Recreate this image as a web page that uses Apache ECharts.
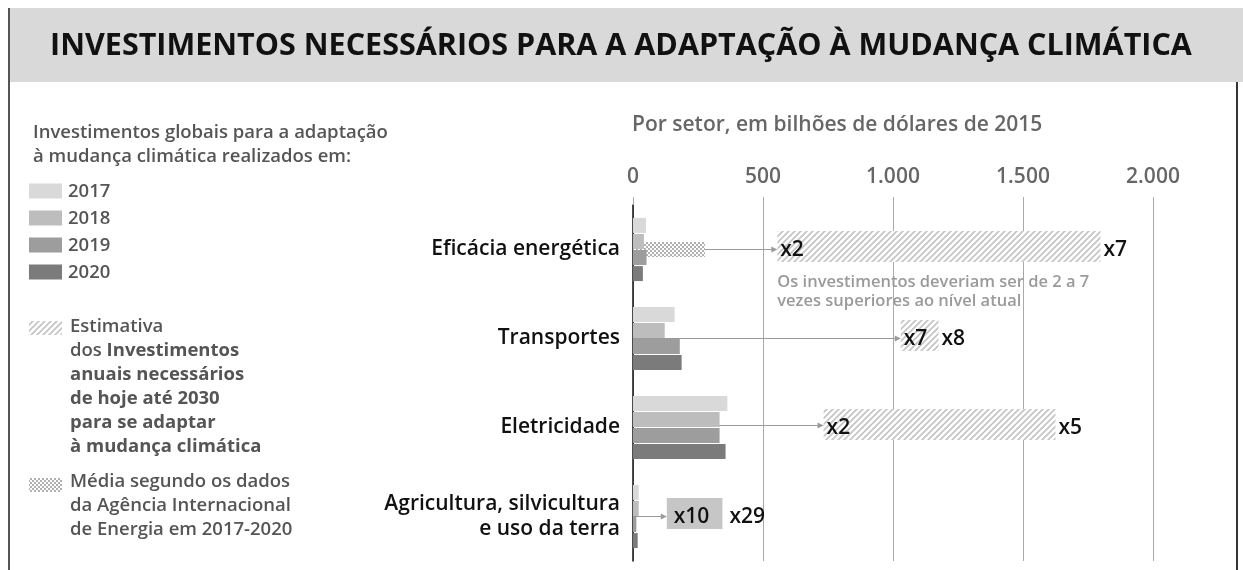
<!DOCTYPE html>
<html>
<head>
<meta charset="utf-8">
<script src="https://cdn.jsdelivr.net/npm/echarts@6/dist/echarts.min.js"></script>
<style>
  html, body { margin: 0; padding: 0; background: #fff; }
  #chart { width: 1243px; height: 570px; }
</style>
</head>
<body>
<div id="chart"></div>
<script>
// ---- dados (bilhões de dólares de 2015) ----
const categories = ['Eficácia energética', 'Transportes', 'Eletricidade', 'Agricultura, silvicultura\ne uso da terra'];
const years = ['2017', '2018', '2019', '2020'];
const v2017 = [50, 160, 363, 22];
const v2018 = [42, 122, 333, 22];
const v2019 = [52, 180, 333, 13];
const v2020 = [38, 187, 356, 18];
const mediaAIE = [277, null, null, null];
const estLow = [555, 1030, 733, 130];
const estHigh = [1798, 1175, 1625, 344];
const lowLabels = ['x2', 'x7', 'x2', 'x10'];
const highLabels = ['x7', 'x8', 'x5', 'x29'];
const xTicks = [0, 500, 1000, 1500, 2000];

const yearColors = ['#d9d9d9', '#bdbdbd', '#9d9d9d', '#7b7b7b'];
const FONT = '"Open Sans", "Noto Sans", sans-serif';

// ---- patterns ----
function hatchCanvas() {
  const c = document.createElement('canvas');
  c.width = 6; c.height = 6;
  const g = c.getContext('2d');
  g.fillStyle = '#fff';
  g.fillRect(0, 0, 6, 6);
  g.strokeStyle = '#c3c3c3';
  g.lineWidth = 1.6;
  g.beginPath();
  g.moveTo(-1, 7); g.lineTo(7, -1);
  g.moveTo(-4, 4); g.lineTo(4, -4);
  g.moveTo(2, 10); g.lineTo(10, 2);
  g.stroke();
  return c;
}
function crossCanvas() {
  const c = document.createElement('canvas');
  c.width = 4; c.height = 4;
  const g = c.getContext('2d');
  g.fillStyle = '#fff';
  g.fillRect(0, 0, 4, 4);
  g.fillStyle = '#b0b0b0';
  g.fillRect(0, 0, 2, 2);
  g.fillRect(2, 2, 2, 2);
  return c;
}
const hatch = { image: hatchCanvas(), repeat: 'repeat' };
const cross = { image: crossCanvas(), repeat: 'repeat' };

const chart = echarts.init(document.getElementById('chart'));

const yearSeries = [v2017, v2018, v2019, v2020].map((vals, k) => ({
  name: years[k],
  type: 'bar',
  yAxisIndex: 0,
  barWidth: 15,
  barGap: '7%',
  z: 3,
  silent: true,
  itemStyle: { color: yearColors[k] },
  data: vals
}));

const estData = categories.map((c, i) => [i, estLow[i], estHigh[i]]);

function renderEstimate(params, api) {
  const i = api.value(0);
  const p0 = api.coord([api.value(1), i]);
  const p1 = api.coord([api.value(2), i]);
  const h = 31;
  const yc = p0[1] - 3;
  const solid = i === 3;
  return {
    type: 'group',
    children: [
      {
        type: 'rect',
        shape: { x: p0[0], y: yc - h / 2, width: p1[0] - p0[0], height: h },
        style: { fill: solid ? '#c6c6c6' : hatch }
      },
      {
        type: 'text',
        style: {
          text: lowLabels[i], x: p0[0] + (solid ? 7 : 3), y: p0[1] + 1,
          verticalAlign: 'middle', fill: '#111', font: '600 21px ' + FONT
        }
      },
      {
        type: 'text',
        style: {
          text: highLabels[i], x: p1[0] + (solid ? 7 : 3), y: p0[1] + 1,
          verticalAlign: 'middle', fill: '#111', font: '600 21px ' + FONT
        }
      }
    ]
  };
}

function renderArrow(params, api) {
  const i = api.value(0);
  const a = api.coord([0, i]);
  const b = api.coord([api.value(1), i]);
  const y = a[1] - (i === 2 ? 2 : 0);
  return {
    type: 'group',
    children: [
      { type: 'line', shape: { x1: a[0], y1: y, x2: b[0] - 3, y2: y }, style: { stroke: '#9a9a9a', lineWidth: 1 } },
      { type: 'polygon', shape: { points: [[b[0], y], [b[0] - 6, y - 3], [b[0] - 6, y + 3]] }, style: { fill: '#9a9a9a' } }
    ]
  };
}

const option = {
  animation: false,
  textStyle: { fontFamily: FONT },
  grid: { left: 633, right: 90, top: 205, bottom: 9 },
  xAxis: {
    type: 'value',
    position: 'top',
    min: 0,
    max: 2000,
    interval: 500,
    axisLine: { show: false },
    axisTick: { show: true, length: 8, lineStyle: { color: '#aaa' } },
    splitLine: { show: true, lineStyle: { color: '#aaa', width: 1 } },
    axisLabel: {
      margin: 17,
      fontSize: 21,
      fontWeight: 600,
      color: (v) => (v === xTicks[1] ? '#111' : '#666'),
      formatter: (v) => String(v).replace(/\B(?=(\d{3})+(?!\d))/g, '.')
    }
  },
  yAxis: [
    {
      type: 'category',
      data: categories,
      inverse: true,
      axisLine: { show: true, lineStyle: { color: '#111', width: 1.5 } },
      axisTick: { show: false },
      axisLabel: { margin: 13, fontSize: 21, fontWeight: 600, color: '#111', lineHeight: 25, align: 'right', padding: [4, 0, 0, 0] }
    },
    {
      type: 'category',
      data: categories,
      inverse: true,
      show: false
    }
  ],
  graphic: [
    { type: 'rect', shape: { x: 8, y: 8, width: 1240, height: 74 }, style: { fill: '#d9d9d9' }, silent: true },
    { type: 'rect', shape: { x: 8, y: 8, width: 2, height: 570 }, style: { fill: '#555' }, silent: true },
    { type: 'rect', shape: { x: 1236, y: 82, width: 2, height: 500 }, style: { fill: '#333' }, silent: true },
    {
      type: 'text',
      style: {
        text: 'INVESTIMENTOS NECESSÁRIOS PARA A ADAPTAÇÃO À MUDANÇA CLIMÁTICA',
        x: 621, y: 46, align: 'center', verticalAlign: 'middle',
        fill: '#111', font: 'bold 30.5px ' + FONT
      }
    },
    {
      type: 'text', left: 632, top: 115,
      style: { text: 'Por setor, em bilhões de dólares de 2015', fill: '#666', font: '600 21px ' + FONT }
    },
    {
      type: 'text', left: 33, top: 121,
      style: { text: 'Investimentos globais para a adaptação\nà mudança climática realizados em:', fill: '#555', font: '600 18.5px ' + FONT, lineHeight: 24 }
    },
    ...years.map((y, k) => ({
      type: 'group', left: 29, top: 182 + k * 27,
      children: [
        { type: 'rect', shape: { x: 0, y: 0, width: 33, height: 15 }, style: { fill: yearColors[k] } },
        { type: 'text', style: { text: y, x: 39, y: 8, verticalAlign: 'middle', fill: '#555', font: '600 18.5px ' + FONT } }
      ]
    })),
    { type: 'rect', shape: { x: 29, y: 321, width: 33, height: 14 }, style: { fill: hatch } },
    {
      type: 'text', left: 70, top: 315,
      style: {
        text: 'Estimativa\ndos {b|Investimentos}\n{b|anuais necessários}\n{b|de hoje até 2030}\n{b|para se adaptar}\n{b|à mudança climática}',
        fill: '#555', font: '600 18.5px ' + FONT, lineHeight: 24,
        rich: { b: { fontWeight: 'bold', fontSize: 18.5, fill: '#555', lineHeight: 24, fontFamily: FONT } }
      }
    },
    { type: 'rect', shape: { x: 29, y: 478, width: 33, height: 14 }, style: { fill: cross } },
    {
      type: 'text', left: 70, top: 470,
      style: { text: 'Média segundo os dados\nda Agência Internacional\nde Energia em 2017-2020', fill: '#555', font: '600 18.5px ' + FONT, lineHeight: 24 }
    }
  ],
  series: [
    {
      type: 'custom',
      name: 'seta',
      yAxisIndex: 0,
      z: 1,
      silent: true,
      renderItem: renderArrow,
      encode: { x: 1, y: 0 },
      data: categories.map((c, i) => [i, estLow[i]])
    },
    {
      type: 'bar',
      name: 'Média AIE',
      yAxisIndex: 1,
      barWidth: 15,
      z: 2,
      silent: true,
      itemStyle: { color: cross },
      data: mediaAIE
    },
    ...yearSeries,
    {
      type: 'custom',
      name: 'Estimativa',
      yAxisIndex: 0,
      z: 3,
      silent: true,
      renderItem: renderEstimate,
      encode: { x: [1, 2], y: 0 },
      data: estData
    },
    {
      type: 'custom',
      name: 'nota',
      yAxisIndex: 0,
      z: 4,
      silent: true,
      encode: { x: 1, y: 0 },
      data: [[0, estLow[0]]],
      renderItem: (params, api) => {
        const p = api.coord([api.value(1), api.value(0)]);
        return {
          type: 'text',
          style: {
            text: 'Os investimentos deveriam ser de 2 a 7\nvezes superiores ao nível atual',
            x: p[0], y: p[1] + 23, fill: '#9a9a9a', font: '600 16.5px ' + FONT, lineHeight: 19
          }
        };
      }
    }
  ]
};

chart.setOption(option);
</script>
</body>
</html>
